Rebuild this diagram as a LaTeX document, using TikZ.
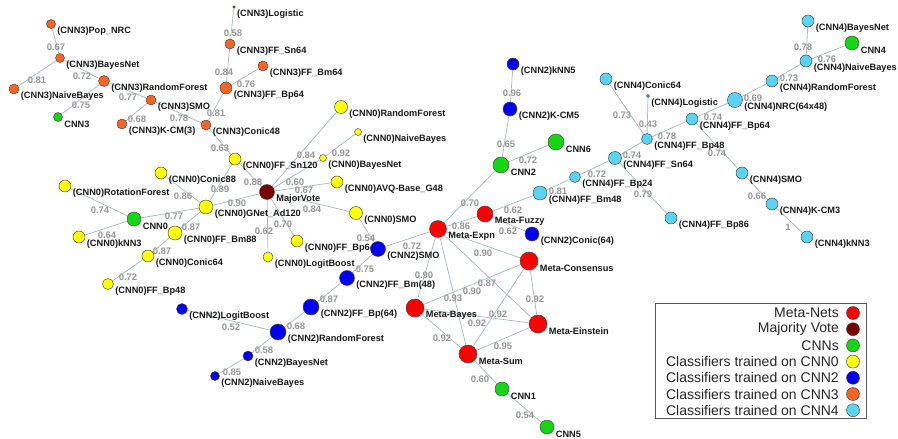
\documentclass[tikz,border=0pt]{standalone}
\usepackage{fontspec}
\setmainfont{Liberation Sans}
\pgfdeclarelayer{bg}
\pgfdeclarelayer{mid}
\pgfsetlayers{bg,mid,main}
\definecolor{cmeta}{RGB}{255,0,0}
\definecolor{cmaj}{RGB}{122,0,0}
\definecolor{ccnn}{RGB}{20,215,20}
\definecolor{czero}{RGB}{255,255,0}
\definecolor{ctwo}{RGB}{0,0,245}
\definecolor{cthree}{RGB}{248,100,35}
\definecolor{cfour}{RGB}{90,212,245}
\definecolor{cbrown}{RGB}{110,55,40}
\definecolor{cedge}{RGB}{165,185,190}
\definecolor{cwt}{RGB}{150,150,150}
\tikzset{
 vtx/.style={circle, draw=black!75, line width=0.45pt, inner sep=0pt},
 meta/.style={vtx, fill=cmeta},
 maj/.style={vtx, fill=cmaj},
 cnn/.style={vtx, fill=ccnn},
 zero/.style={vtx, fill=czero},
 two/.style={vtx, fill=ctwo},
 three/.style={vtx, fill=cthree},
 four/.style={vtx, fill=cfour},
 dotb/.style={vtx, fill=cbrown, draw=cbrown},
 nl/.style={font=\fontsize{9.2}{10}\selectfont\bfseries, text=black!90, inner sep=0.5pt, anchor=west},
 wl/.style={font=\fontsize{9.5}{10}\selectfont\bfseries, text=cwt, inner sep=0pt},
 edge/.style={draw=cedge, line width=0.7pt},
 lgt/.style={font=\fontsize{14}{15}\selectfont, text=black!85, inner sep=0pt, anchor=east},
 lgbox/.style={draw=black!65, line width=0.7pt, inner sep=0pt, anchor=north west},
}
\newcommand\vx[6]{\node[#1, minimum size=#2pt] (#3) at (#4,#5) {};
 \begin{pgfonlayer}{mid}\node[nl] (#3l) at ([xshift=1pt,yshift=-7pt]#3.east) {#6};\end{pgfonlayer}}
\newcommand\ed[5]{\begin{pgfonlayer}{bg}\draw[edge] (#1) -- (#2);\end{pgfonlayer}
 \begin{pgfonlayer}{mid}\node[wl] (#1-#2) at (#3,#4) {#5};\end{pgfonlayer}}
\begin{document}
\begin{tikzpicture}[x=1pt,y=-1pt]
\begin{pgfonlayer}{bg}
\fill[white] (0,0) rectangle (898,439);
\end{pgfonlayer}
\useasboundingbox (0,0) rectangle (898,439);
% CNN3 group
\vx{three}{9}{a1}{51}{24}{(CNN3)Pop\_NRC}
\vx{three}{9}{a2}{60}{58}{(CNN3)BayesNet}
\vx{three}{10}{a3}{14}{89}{(CNN3)NaiveBayes}
\vx{three}{11}{a4}{104}{81}{(CNN3)RandomForest}
\vx{cnn}{9}{a5}{58}{117}{CNN3}
\vx{three}{10}{a6}{151}{100}{(CNN3)SMO}
\vx{three}{10}{a7}{122}{124}{(CNN3)K-CM(3)}
\vx{three}{10}{a8}{206}{125}{(CNN3)Conic48}
\vx{three}{12}{a9}{226}{88}{(CNN3)FF\_Bp64}
\vx{three}{10}{a10}{263}{66}{(CNN3)FF\_Bm64}
\vx{three}{10}{a11}{230}{44}{(CNN3)FF\_Sn64}
\vx{dotb}{2.5}{a12}{234}{7}{(CNN3)Logistic}
% CNN0 group
\vx{zero}{12}{b1}{161}{173}{(CNN0)Conic88}
\vx{zero}{12}{b2}{65}{186}{(CNN0)RotationForest}
\vx{cnn}{14}{b3}{134}{219}{CNN0}
\vx{zero}{14}{b4}{206}{207}{(CNN0)GNet\_Ad120}
\vx{zero}{12}{b5}{79}{237}{(CNN0)kNN3}
\vx{zero}{14}{b6}{175}{233}{(CNN0)FF\_Bm88}
\vx{zero}{12}{b7}{148}{256}{(CNN0)Conic64}
\vx{zero}{11}{b8}{108}{284}{(CNN0)FF\_Bp48}
\vx{zero}{12}{b9}{235}{159}{(CNN0)FF\_Sn120}
\vx{zero}{7}{b10}{323}{158}{(CNN0)BayesNet}
\vx{zero}{7}{b11}{358}{132}{(CNN0)NaiveBayes}
\vx{zero}{13}{b12}{341}{107}{(CNN0)RandomForest}
\vx{zero}{12}{b13}{337}{182}{(CNN0)AVQ-Base\_G48}
\vx{zero}{13}{b14}{356}{213}{(CNN0)SMO}
\vx{zero}{12}{b15}{297}{241}{(CNN0)FF\_Bp64}
\vx{zero}{10}{b16}{268}{257}{(CNN0)LogitBoost}
\vx{maj}{15}{mv}{267}{192}{MajorVote}
% CNN2 group
\vx{two}{15}{c1}{378}{249}{(CNN2)SMO}
\vx{two}{15}{c2}{347}{278}{(CNN2)FF\_Bm(48)}
\vx{two}{16}{c3}{311}{307}{(CNN2)FF\_Bp(64)}
\vx{two}{11}{c4}{182}{309}{(CNN2)LogitBoost}
\vx{two}{16}{c5}{278}{332}{(CNN2)RandomForest}
\vx{two}{10}{c6}{248}{356}{(CNN2)BayesNet}
\vx{two}{9}{c7}{215}{376}{(CNN2)NaiveBayes}
\vx{two}{12}{c8}{513}{64}{(CNN2)kNN5}
\vx{two}{14}{c9}{510}{109}{(CNN2)K-CM5}
\vx{two}{14}{c10}{532}{234}{(CNN2)Conic(64)}
% CNNs
\vx{cnn}{16}{g2}{501}{165}{CNN2}
\vx{cnn}{16}{g6}{556}{142}{CNN6}
\vx{cnn}{14}{g1}{502}{389}{CNN1}
\vx{cnn}{14}{g5}{547}{427}{CNN5}
\vx{cnn}{14}{g4}{852}{43}{CNN4}
% Meta
\vx{meta}{17}{m1}{438}{229}{Meta-Expn}
\vx{meta}{16}{m2}{485}{214}{Meta-Fuzzy}
\vx{meta}{18}{m3}{529}{261}{Meta-Consensus}
\vx{meta}{18}{m4}{415}{308}{Meta-Bayes}
\vx{meta}{18}{m5}{538}{324}{Meta-Einstein}
\vx{meta}{18}{m6}{468}{354}{Meta-Sum}
% CNN4 group
\vx{four}{12}{d1}{808}{21}{(CNN4)BayesNet}
\vx{four}{12}{d2}{806}{61}{(CNN4)NaiveBayes}
\vx{four}{12}{d3}{772}{81}{(CNN4)RandomForest}
\vx{four}{15}{d4}{735}{100}{(CNN4)NRC(64x48)}
\vx{four}{12}{d5}{692}{119}{(CNN4)FF\_Bp64}
\vx{four}{12}{d6}{606}{79}{(CNN4)Conic64}
\vx{four}{3}{d7}{648}{96}{(CNN4)Logistic}
\vx{four}{11}{d8}{647}{139}{(CNN4)FF\_Bp48}
\vx{four}{13}{d9}{615}{158}{(CNN4)FF\_Sn64}
\vx{four}{11}{d10}{575}{177}{(CNN4)FF\_Bp24}
\vx{four}{14}{d11}{540}{193}{(CNN4)FF\_Bm48}
\vx{four}{12}{d12}{742}{173}{(CNN4)SMO}
\vx{four}{12}{d13}{772}{204}{(CNN4)K-CM3}
\vx{four}{12}{d14}{807}{237}{(CNN4)kNN3}
\vx{four}{12}{d15}{671}{218}{(CNN4)FF\_Bp86}
% edges CNN3
\ed{a1}{a2}{56}{47}{0.67}
\ed{a2}{a3}{37}{80}{0.81}
\ed{a2}{a4}{82}{76}{0.72}
\ed{a4}{a5}{81}{105}{0.75}
\ed{a4}{a6}{128}{97}{0.77}
\ed{a6}{a7}{137}{119}{0.68}
\ed{a6}{a8}{179}{118}{0.78}
\ed{a8}{a9}{216}{113}{0.81}
\ed{a9}{a11}{224}{72}{0.84}
\ed{a9}{a10}{246}{84}{0.76}
\ed{a11}{a12}{233}{33}{0.58}
\ed{a8}{b9}{220}{148}{0.63}
% edges CNN0
\ed{b2}{b3}{100}{210}{0.74}
\ed{b5}{b3}{107}{235}{0.64}
\ed{b3}{b4}{174}{216.5}{0.77}
\ed{b1}{b4}{183}{196}{0.86}
\ed{b4}{b6}{191}{227}{0.87}
\ed{b7}{b8}{128}{277}{0.72}
\ed{b6}{b7}{162}{251}{0.87}
\ed{b4}{b9}{220}{189}{0.89}
\ed{b4}{mv}{237}{203.5}{0.90}
\ed{b9}{mv}{253}{182}{0.88}
\ed{mv}{b12}{306}{155}{0.84}
\ed{b10}{b11}{341}{153}{0.92}
\ed{mv}{b10}{295}{182}{0.60}
\ed{mv}{b13}{304}{190}{0.67}
\ed{mv}{b14}{312}{209}{0.84}
\ed{mv}{b16}{264}{231}{0.62}
\ed{mv}{b15}{283}{224}{0.70}
% edges CNN2
\ed{b14}{c1}{366}{238}{0.54}
\ed{c1}{c2}{365}{269}{0.75}
\ed{c1}{m1}{412}{246}{0.72}
\ed{c2}{c3}{329}{299}{0.87}
\ed{c3}{c5}{296}{326}{0.68}
\ed{c4}{c5}{231}{327}{0.52}
\ed{c5}{c6}{264}{350}{0.58}
\ed{c6}{c7}{232}{372}{0.85}
\ed{c8}{c9}{512}{93}{0.96}
\ed{c9}{g2}{506}{144}{0.65}
\ed{g2}{g6}{528}{160}{0.72}
\ed{g2}{m1}{470}{203}{0.70}
\ed{m2}{d11}{513}{210}{0.62}
\ed{m2}{c10}{508}{231}{0.62}
\ed{m1}{m2}{461}{226}{0.86}
% edges CNN4
\ed{d11}{d10}{558}{191}{0.81}
\ed{d10}{d9}{597}{174}{0.72}
\ed{d9}{d8}{632}{155}{0.74}
\ed{d5}{d12}{717}{153}{0.74}
\ed{d9}{d15}{643}{194}{0.79}
\ed{d12}{d13}{757}{196}{0.66}
\ed{d13}{d14}{788}{227}{1}
\ed{d8}{d5}{667}{136}{0.78}
\ed{d6}{d8}{622}{115}{0.73}
\ed{d7}{d8}{648}{124}{0.43}
\ed{d5}{d4}{713}{117}{0.74}
\ed{d4}{d3}{753}{98}{0.69}
\ed{d3}{d2}{789}{78}{0.73}
\ed{d2}{d1}{803}{47}{0.78}
\ed{g4}{d2}{827}{59}{0.76}
% meta edges
\ed{m1}{m3}{483}{253}{0.90}
\ed{m1}{m4}{424}{275}{0.90}
\ed{m1}{m6}{453}{298}{0.93}
\ed{m1}{m5}{487}{283}{0.87}
\ed{m3}{m4}{472}{291}{0.90}
\ed{m3}{m5}{535}{299}{0.92}
\ed{m3}{m6}{498}{314}{0.92}
\ed{m4}{m5}{477}{323}{0.92}
\ed{m4}{m6}{442}{338}{0.92}
\ed{m5}{m6}{503}{346}{0.95}
\ed{m6}{g1}{480}{379}{0.60}
\ed{g1}{g5}{525}{415}{0.54}
% legend
\node[lgbox, minimum width=211pt, minimum height=115pt] (legend) at (655,303) {};
\node[lgt] (lt1) at (839,313) {Meta-Nets};
\node[meta, minimum size=13pt] (lc1) at (853,313) {};
\node[lgt] (lt2) at (839,329.2) {Majority Vote};
\node[maj, minimum size=13pt] (lc2) at (853,329.2) {};
\node[lgt] (lt3) at (839,345.4) {CNNs};
\node[cnn, minimum size=13pt] (lc3) at (853,345.4) {};
\node[lgt] (lt4) at (839,361.6) {Classifiers trained on CNN0};
\node[zero, minimum size=13pt] (lc4) at (853,361.6) {};
\node[lgt] (lt5) at (839,377.8) {Classifiers trained on CNN2};
\node[two, minimum size=13pt] (lc5) at (853,377.8) {};
\node[lgt] (lt6) at (839,394) {Classifiers trained on CNN3};
\node[three, minimum size=13pt] (lc6) at (853,394) {};
\node[lgt] (lt7) at (839,410.2) {Classifiers trained on CNN4};
\node[four, minimum size=13pt] (lc7) at (853,410.2) {};
\end{tikzpicture}
\end{document}
